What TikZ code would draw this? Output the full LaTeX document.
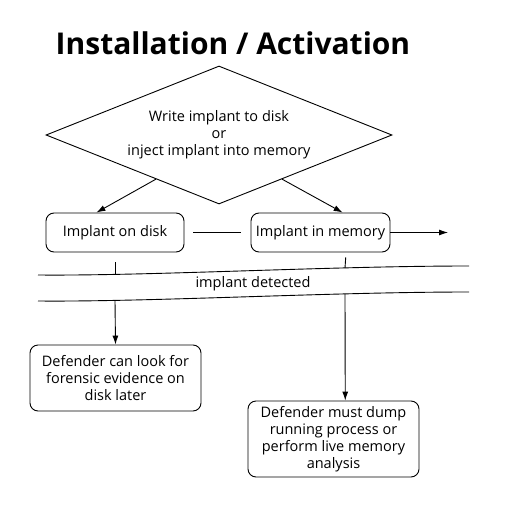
\documentclass[tikz,border=0pt]{standalone}
\usepackage{fontspec}
\setmainfont{Open Sans}
\usetikzlibrary{shapes.geometric, positioning, arrows.meta, calc}
\tikzset{
  decision/.style={diamond, aspect=2.507, draw=black, line width=0.9pt, minimum width=346pt, minimum height=138pt, inner sep=0pt, text centered, align=center},
  process/.style={rectangle, rounded corners=8pt, draw=black, line width=0.9pt, minimum width=138pt, minimum height=39pt, text centered, align=center},
  arrow/.style={line width=0.9pt,-{Latex[length=9pt,width=6pt]}},
  plain/.style={line width=0.9pt}
}
\begin{document}
\begin{tikzpicture}[x=1pt, y=-1pt, every node/.style={font=\fontsize{14.5}{17}\selectfont}]
            \useasboundingbox (0,0) rectangle (529,508);
            \node (title) [anchor=base, font=\fontsize{30}{36}\selectfont\bfseries] at (233,55) {Installation / Activation};
            \node (choice) [decision] at (219,135) {Write implant to disk\\or\\inject implant into memory};
            \node (disk) [process] at (115,232.5) {Implant on disk};
            \node (mem) [process, minimum width=139pt] at (320.5,232.5) {Implant in memory};
            \node (look) [process, minimum width=171pt, minimum height=66pt] at (115.5,378) {Defender can look for\\forensic evidence on\\disk later};
            \node (dump) [process, minimum width=171pt, minimum height=76pt] at (333.5,439) {Defender must dump\\running process or\\perform live memory\\analysis};
            \node (detect) at (253,284) {implant detected};
            \coordinate (out) at (448,232.5);

            \draw [arrow] (choice.215) -- (disk.133);
            \draw [arrow] (choice.-35) -- (mem.42);
            \draw [plain, shorten <=9pt, shorten >=10pt] (disk) -- (mem);
            \draw [arrow] (mem) -- (out);

            % --- detection band ---
            \draw [plain] (38,275) .. controls (150,276) and (330,266) .. (469,266);
            \draw [plain] (38,301) .. controls (150,302) and (330,292) .. (469,292);
            \coordinate (cutA) at (115,274.5);
            \coordinate (cutB) at (345,268);
            \coordinate (passA) at (115,300.5);
            \coordinate (passB) at (345,294);

            \draw [plain, shorten <=10pt] (disk.south) -- (cutA);
            \draw [plain, shorten <=5pt] (mem.-38.5) -- (cutB);
            \draw [arrow] (passA) -- (look.north);
            \draw [arrow] (passB) -- (dump.73);
\end{tikzpicture}
\end{document}
